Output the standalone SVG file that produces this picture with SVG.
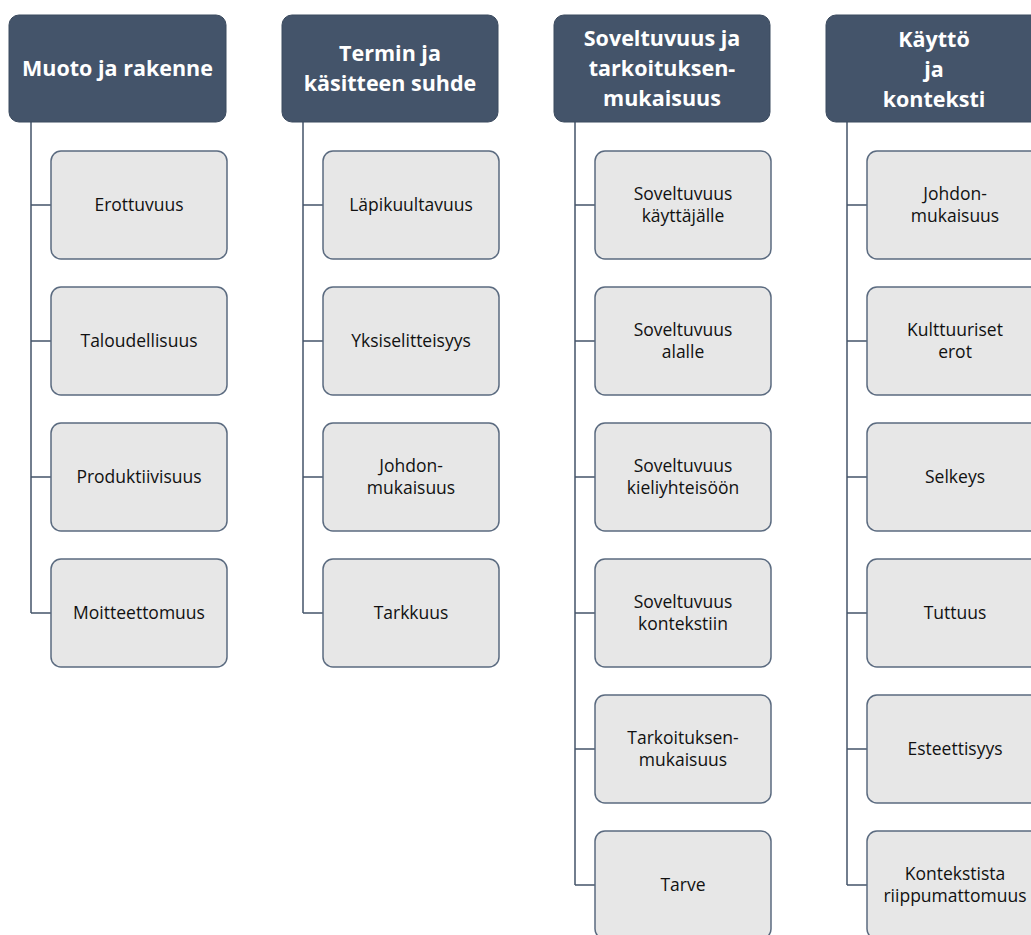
<svg xmlns="http://www.w3.org/2000/svg" width="1031" height="935" viewBox="0 0 1031 935">
<style>
  .head rect { fill: #44546A; stroke: #3B4A5E; stroke-width: 1; }
  .head text { fill: #FFFFFF; font-family: "Open Sans", "Noto Sans", sans-serif; font-weight: bold; font-size: 21.5px; text-anchor: middle; }
  .item rect { fill: #E7E7E7; stroke: #5B6B80; stroke-width: 1.5; }
  .item text { fill: #111111; font-family: "Open Sans", "Noto Sans", sans-serif; font-size: 17.5px; text-anchor: middle; }
  .links path { fill: none; stroke: #44546A; stroke-width: 1.5; }
</style>
<rect width="1031" height="935" fill="#FFFFFF"/>

<!-- connectors: one vertical spine per column with a branch to each child -->
<g class="links">
  <path d="M31 122 V613 M31 205 H51 M31 341 H51 M31 477 H51 M31 613 H51"/>
  <path d="M303 122 V613 M303 205 H323 M303 341 H323 M303 477 H323 M303 613 H323"/>
  <path d="M575 122 V885 M575 205 H595 M575 341 H595 M575 477 H595 M575 613 H595 M575 749 H595 M575 885 H595"/>
  <path d="M847 122 V885 M847 205 H867 M847 341 H867 M847 477 H867 M847 613 H867 M847 749 H867 M847 885 H867"/>
</g>

<!-- column 1 -->
<g id="h1" class="head"><rect x="9" y="15" width="217" height="107" rx="10"/><text x="117.5" y="76">Muoto ja rakenne</text></g>
<g id="c1a" class="item"><rect x="51" y="151" width="176" height="108" rx="10"/><text x="139" y="211">Erottuvuus</text></g>
<g id="c1b" class="item"><rect x="51" y="287" width="176" height="108" rx="10"/><text x="139" y="347">Taloudellisuus</text></g>
<g id="c1c" class="item"><rect x="51" y="423" width="176" height="108" rx="10"/><text x="139" y="483">Produktiivisuus</text></g>
<g id="c1d" class="item"><rect x="51" y="559" width="176" height="108" rx="10"/><text x="139" y="619">Moitteettomuus</text></g>

<!-- column 2 -->
<g id="h2" class="head"><rect x="282" y="15" width="216" height="107" rx="10"/><text x="390" y="61">Termin ja</text><text x="390" y="91">käsitteen suhde</text></g>
<g id="c2a" class="item"><rect x="323" y="151" width="176" height="108" rx="10"/><text x="411" y="211">Läpikuultavuus</text></g>
<g id="c2b" class="item"><rect x="323" y="287" width="176" height="108" rx="10"/><text x="411" y="347">Yksiselitteisyys</text></g>
<g id="c2c" class="item"><rect x="323" y="423" width="176" height="108" rx="10"/><text x="411" y="472">Johdon-</text><text x="411" y="494">mukaisuus</text></g>
<g id="c2d" class="item"><rect x="323" y="559" width="176" height="108" rx="10"/><text x="411" y="619">Tarkkuus</text></g>

<!-- column 3 -->
<g id="h3" class="head"><rect x="554" y="15" width="216" height="107" rx="10"/><text x="662" y="46">Soveltuvuus ja</text><text x="662" y="76">tarkoituksen-</text><text x="662" y="106">mukaisuus</text></g>
<g id="c3a" class="item"><rect x="595" y="151" width="176" height="108" rx="10"/><text x="683" y="200">Soveltuvuus</text><text x="683" y="222">käyttäjälle</text></g>
<g id="c3b" class="item"><rect x="595" y="287" width="176" height="108" rx="10"/><text x="683" y="336">Soveltuvuus</text><text x="683" y="358">alalle</text></g>
<g id="c3c" class="item"><rect x="595" y="423" width="176" height="108" rx="10"/><text x="683" y="472">Soveltuvuus</text><text x="683" y="494">kieliyhteisöön</text></g>
<g id="c3d" class="item"><rect x="595" y="559" width="176" height="108" rx="10"/><text x="683" y="608">Soveltuvuus</text><text x="683" y="630">kontekstiin</text></g>
<g id="c3e" class="item"><rect x="595" y="695" width="176" height="108" rx="10"/><text x="683" y="744">Tarkoituksen-</text><text x="683" y="766">mukaisuus</text></g>
<g id="c3f" class="item"><rect x="595" y="831" width="176" height="108" rx="10"/><text x="683" y="891">Tarve</text></g>

<!-- column 4 -->
<g id="h4" class="head"><rect x="826" y="15" width="216" height="107" rx="10"/><text x="934" y="47">Käyttö</text><text x="934" y="77">ja</text><text x="934" y="107">konteksti</text></g>
<g id="c4a" class="item"><rect x="867" y="151" width="176" height="108" rx="10"/><text x="955" y="200">Johdon-</text><text x="955" y="222">mukaisuus</text></g>
<g id="c4b" class="item"><rect x="867" y="287" width="176" height="108" rx="10"/><text x="955" y="336">Kulttuuriset</text><text x="955" y="358">erot</text></g>
<g id="c4c" class="item"><rect x="867" y="423" width="176" height="108" rx="10"/><text x="955" y="483">Selkeys</text></g>
<g id="c4d" class="item"><rect x="867" y="559" width="176" height="108" rx="10"/><text x="955" y="619">Tuttuus</text></g>
<g id="c4e" class="item"><rect x="867" y="695" width="176" height="108" rx="10"/><text x="955" y="755">Esteettisyys</text></g>
<g id="c4f" class="item"><rect x="867" y="831" width="176" height="108" rx="10"/><text x="955" y="880">Kontekstista</text><text x="955" y="902">riippumattomuus</text></g>
</svg>
